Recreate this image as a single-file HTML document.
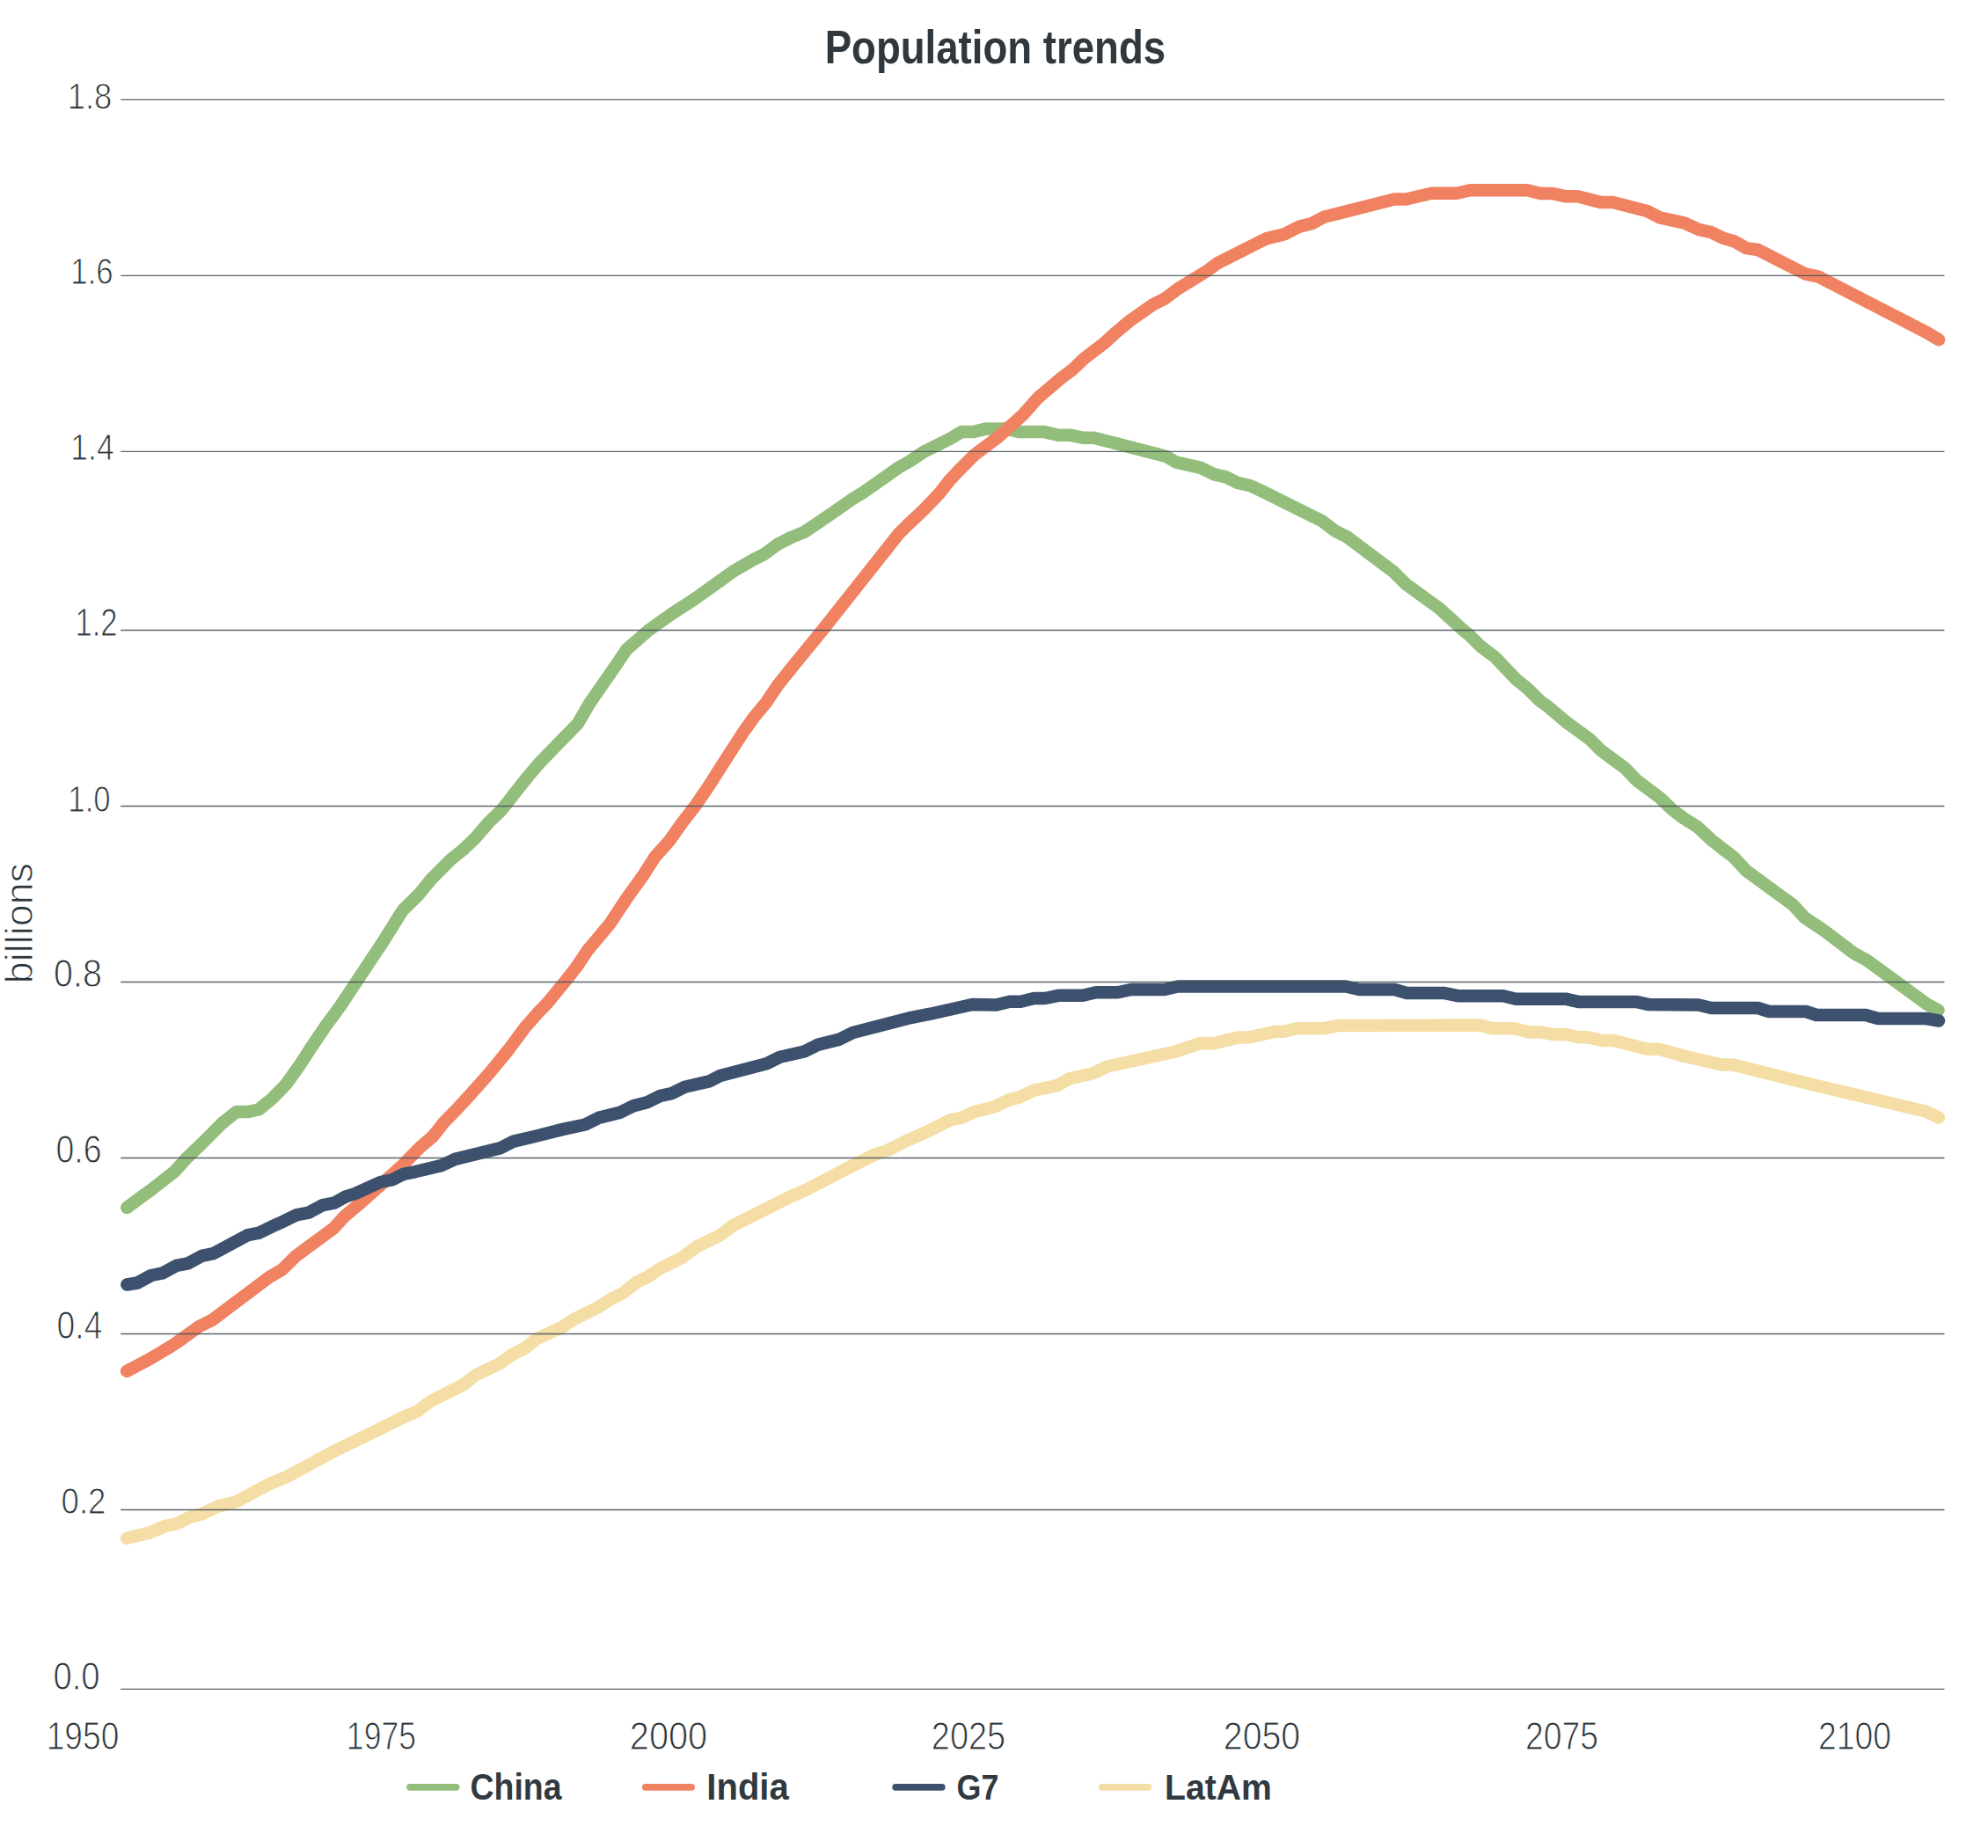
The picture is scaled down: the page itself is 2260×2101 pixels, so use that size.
<!DOCTYPE html><html><head><meta charset="utf-8"><title>Population trends</title><style>html,body{margin:0;padding:0;background:#fff;overflow:hidden;}svg{display:block;}</style></head><body>
<svg width="2260" height="2101" viewBox="0 0 2260 2101">
<style>text{font-family:"Liberation Sans",sans-serif;}</style>
<rect width="2260" height="2101" fill="#fff"/>
<polyline points="144.3,1372.9 171.9,1352.6 198.0,1332.3 212.4,1316.4 229.6,1300.0 252.5,1277.0 268.6,1264.1 281.3,1264.1 294.0,1261.5 309.0,1249.4 325.2,1232.8 340.9,1210.7 355.3,1188.5 370.3,1166.4 386.6,1144.3 405.0,1116.4 434.2,1072.6 457.7,1035.0 476.0,1017.0 490.4,999.4 512.6,977.2 525.7,966.7 540.1,953.0 555.8,934.7 570.2,920.9 584.6,902.6 600.0,883.0 615.5,865.1 636.0,844.0 656.7,822.9 670.0,800.0 683.4,780.7 702.5,753.0 712.2,738.5 737.6,716.4 762.9,698.4 791.0,680.1 812.1,665.0 833.2,649.8 856.4,636.3 869.0,630.0 884.1,618.7 899.2,611.1 914.3,604.9 929.4,594.8 939.4,588.0 969.3,567.1 982.4,559.2 1021.6,531.5 1034.9,524.0 1049.7,514.0 1064.1,506.8 1080.2,498.8 1093.1,491.1 1106.0,491.1 1120.5,487.6 1144.6,487.6 1159.1,491.1 1187.3,491.1 1203.1,494.7 1216.2,494.7 1230.5,497.7 1243.6,497.7 1326.0,518.9 1336.5,525.4 1365.3,531.9 1379.6,539.1 1394.0,542.4 1407.1,548.9 1421.5,552.2 1440.0,560.9 1476.6,579.2 1502.8,592.3 1518.5,604.1 1531.6,610.6 1583.9,649.9 1598.3,664.2 1636.2,691.7 1649.3,703.5 1662.3,715.5 1670.2,721.8 1683.3,734.9 1700.0,747.5 1723.5,772.3 1736.6,782.8 1751.0,797.2 1760.2,803.7 1781.1,821.4 1807.2,840.3 1820.3,853.4 1847.8,873.7 1860.9,887.4 1887.0,907.0 1901.4,920.8 1914.5,930.6 1930.2,940.4 1944.6,954.1 1960.0,966.2 1971.8,975.3 1984.8,989.7 1999.2,1000.2 2038.5,1028.9 2051.6,1043.3 2071.2,1056.4 2080.3,1062.9 2107.8,1083.9 2122.2,1091.7 2190.2,1141.4 2203.5,1148.6" fill="none" stroke="#93bd7a" stroke-width="14.5" stroke-linecap="round" stroke-linejoin="round"/>
<polyline points="144.1,1558.9 170.2,1545.1 195.4,1530.0 202.9,1525.0 225.6,1508.6 240.7,1501.1 270.8,1478.5 306.1,1452.0 321.1,1443.2 336.2,1428.1 379.0,1396.7 391.6,1382.9 406.7,1370.3 436.8,1343.5 457.0,1325.5 465.9,1316.2 478.0,1304.0 491.7,1292.4 504.5,1276.3 520.2,1260.2 534.9,1244.1 556.4,1220.0 579.0,1192.3 597.0,1168.0 612.0,1151.0 622.6,1140.0 641.9,1116.5 654.9,1100.1 668.0,1080.5 681.1,1064.8 694.2,1049.1 713.3,1020.0 730.3,996.6 744.8,973.9 760.9,956.0 775.2,935.7 790.2,916.4 805.3,894.4 820.8,870.0 830.5,854.9 844.9,832.6 858.0,814.3 871.1,798.6 884.2,779.0 899.9,759.4 935.2,716.2 1022.4,606.1 1032.5,596.1 1049.7,580.0 1067.4,561.5 1079.4,546.2 1089.9,535.0 1107.6,517.3 1117.3,510.0 1133.4,498.0 1144.6,488.3 1148.7,484.3 1163.1,471.4 1180.0,452.3 1206.2,430.0 1219.2,420.2 1232.3,407.8 1254.5,390.8 1268.9,377.7 1284.6,364.6 1310.8,346.3 1323.9,339.8 1339.6,328.0 1363.1,313.6 1373.6,307.1 1384.0,299.2 1440.0,271.1 1459.6,266.4 1477.2,257.6 1491.5,254.0 1504.8,246.8 1585.1,226.5 1598.5,226.5 1627.2,219.8 1655.8,219.8 1671.1,216.2 1736.1,216.2 1751.4,220.0 1764.8,220.0 1780.1,223.3 1793.5,223.3 1820.2,230.1 1833.6,230.1 1872.5,240.1 1887.8,247.7 1914.5,253.4 1931.7,261.1 1945.1,264.0 1958.5,270.6 1971.9,274.5 1985.3,282.1 1998.6,284.0 2052.2,311.4 2067.4,314.6 2189.8,377.7 2204.1,386.3" fill="none" stroke="#f08262" stroke-width="14.5" stroke-linecap="round" stroke-linejoin="round"/>
<polyline points="144.4,1460.5 156.2,1458.5 171.9,1450.0 184.9,1447.4 200.6,1438.9 213.7,1436.3 229.4,1427.8 242.5,1425.2 281.7,1404.2 294.8,1401.6 309.2,1394.4 322.3,1388.6 336.6,1381.4 351.0,1378.7 366.7,1370.2 380.0,1367.6 393.1,1360.4 403.5,1357.1 432.3,1344.0 445.4,1341.4 458.5,1334.9 471.6,1332.3 501.6,1325.1 517.3,1317.9 568.3,1305.4 584.0,1297.6 608.9,1291.7 640.0,1283.9 665.3,1278.5 680.4,1270.9 705.5,1264.6 720.6,1257.1 735.7,1253.3 750.8,1245.8 763.4,1243.2 778.5,1235.7 806.1,1229.4 818.7,1223.1 871.5,1209.3 886.6,1201.7 914.3,1195.5 929.4,1187.9 954.5,1181.6 969.6,1174.1 1032.5,1157.7 1057.6,1152.7 1105.4,1142.0 1132.7,1142.5 1147.8,1138.7 1160.4,1138.7 1175.5,1135.0 1188.0,1135.0 1203.1,1131.8 1230.8,1131.8 1245.9,1128.2 1271.0,1128.2 1286.1,1125.0 1323.8,1125.0 1338.9,1121.5 1530.1,1121.5 1545.2,1125.0 1585.4,1125.0 1599.3,1128.9 1641.2,1128.9 1657.3,1132.2 1708.8,1132.2 1723.3,1135.7 1779.6,1135.7 1794.1,1138.9 1860.1,1138.9 1874.6,1142.1 1930.9,1142.5 1945.4,1146.0 1998.5,1146.0 2011.0,1150.0 2053.0,1150.0 2065.0,1154.0 2121.0,1154.0 2135.0,1158.0 2190.0,1158.0 2204.0,1160.5" fill="none" stroke="#3d516e" stroke-width="14.5" stroke-linecap="round" stroke-linejoin="round"/>
<polyline points="144.1,1748.8 170.2,1742.6 187.8,1735.0 200.4,1732.5 215.5,1724.9 228.1,1721.9 248.2,1712.4 268.3,1707.4 306.1,1687.2 326.2,1678.9 380.0,1649.8 426.9,1627.0 457.0,1612.0 475.5,1603.8 488.6,1593.6 527.8,1573.7 540.9,1563.2 568.3,1550.2 582.7,1539.7 597.1,1532.5 610.2,1522.0 640.0,1508.3 652.7,1499.8 680.4,1486.0 695.5,1476.4 708.0,1470.1 723.1,1458.3 735.7,1452.1 750.8,1442.0 775.9,1429.4 791.0,1418.0 818.7,1404.3 833.8,1392.9 896.7,1361.4 916.8,1352.6 969.6,1325.0 994.8,1312.4 1007.3,1308.6 1032.5,1296.1 1055.1,1286.0 1080.3,1273.4 1092.8,1270.9 1107.9,1264.0 1130.0,1258.5 1147.0,1250.4 1160.1,1247.1 1174.5,1239.9 1201.9,1234.1 1216.3,1226.2 1242.5,1220.3 1258.2,1212.7 1336.4,1195.5 1365.4,1185.9 1379.8,1186.3 1406.8,1179.6 1419.4,1179.6 1449.6,1172.8 1459.6,1172.8 1474.8,1169.3 1504.9,1169.3 1520.0,1166.0 1683.0,1165.5 1695.9,1169.2 1721.7,1169.2 1737.8,1173.4 1750.6,1173.4 1765.1,1175.9 1779.6,1175.9 1794.1,1179.2 1805.4,1179.2 1821.5,1183.0 1834.3,1183.0 1873.0,1192.7 1885.9,1192.7 1914.8,1200.7 1956.7,1210.4 1969.6,1210.4 2066.2,1234.5 2189.0,1263.5 2204.0,1270.6" fill="none" stroke="#f4dea6" stroke-width="14.5" stroke-linecap="round" stroke-linejoin="round"/>
<line x1="137.2" y1="113.4" x2="2210.5" y2="113.4" stroke="#4c555b" stroke-width="1.3" opacity="0.9"/>
<line x1="137.2" y1="313.4" x2="2210.5" y2="313.4" stroke="#4c555b" stroke-width="1.3" opacity="0.9"/>
<line x1="137.2" y1="513.4" x2="2210.5" y2="513.4" stroke="#4c555b" stroke-width="1.3" opacity="0.9"/>
<line x1="137.2" y1="716.5" x2="2210.5" y2="716.5" stroke="#4c555b" stroke-width="1.3" opacity="0.9"/>
<line x1="137.2" y1="916.5" x2="2210.5" y2="916.5" stroke="#4c555b" stroke-width="1.3" opacity="0.9"/>
<line x1="137.2" y1="1116.5" x2="2210.5" y2="1116.5" stroke="#4c555b" stroke-width="1.3" opacity="0.9"/>
<line x1="137.2" y1="1316.5" x2="2210.5" y2="1316.5" stroke="#4c555b" stroke-width="1.3" opacity="0.9"/>
<line x1="137.2" y1="1516.5" x2="2210.5" y2="1516.5" stroke="#4c555b" stroke-width="1.3" opacity="0.9"/>
<line x1="137.2" y1="1716.5" x2="2210.5" y2="1716.5" stroke="#4c555b" stroke-width="1.3" opacity="0.9"/>
<line x1="137.2" y1="1920.3" x2="2210.5" y2="1920.3" stroke="#4c555b" stroke-width="1.3" opacity="0.9"/>
<line x1="465.9" y1="2031.9" x2="518.6" y2="2031.9" stroke="#93bd7a" stroke-width="7.6" stroke-linecap="round"/>
<line x1="733.7" y1="2031.9" x2="786.2" y2="2031.9" stroke="#f08262" stroke-width="7.6" stroke-linecap="round"/>
<line x1="1018.1" y1="2031.9" x2="1070.9" y2="2031.9" stroke="#3d516e" stroke-width="7.6" stroke-linecap="round"/>
<line x1="1252.8" y1="2031.9" x2="1305.6" y2="2031.9" stroke="#f4dea6" stroke-width="7.6" stroke-linecap="round"/>
<text transform="translate(102.00,124.00) scale(0.8392,1)" text-anchor="middle" font-size="43.37" fill="#2b3439" stroke="#fff" stroke-width="1.0">1.8</text>
<text transform="translate(104.50,323.00) scale(0.8300,1)" text-anchor="middle" font-size="41.99" fill="#2b3439" stroke="#fff" stroke-width="1.0">1.6</text>
<text transform="translate(105.00,523.00) scale(0.8246,1)" text-anchor="middle" font-size="42.98" fill="#2b3439" stroke="#fff" stroke-width="1.0">1.4</text>
<text transform="translate(109.50,723.00) scale(0.7908,1)" text-anchor="middle" font-size="43.83" fill="#2b3439" stroke="#fff" stroke-width="1.0">1.2</text>
<text transform="translate(101.50,923.00) scale(0.8304,1)" text-anchor="middle" font-size="41.99" fill="#2b3439" stroke="#fff" stroke-width="1.0">1.0</text>
<text transform="translate(88.50,1122.00) scale(0.9042,1)" text-anchor="middle" font-size="43.66" fill="#2b3439" stroke="#fff" stroke-width="1.0">0.8</text>
<text transform="translate(89.50,1322.00) scale(0.8595,1)" text-anchor="middle" font-size="43.66" fill="#2b3439" stroke="#fff" stroke-width="1.0">0.6</text>
<text transform="translate(90.50,1522.00) scale(0.8548,1)" text-anchor="middle" font-size="43.66" fill="#2b3439" stroke="#fff" stroke-width="1.0">0.4</text>
<text transform="translate(95.00,1721.00) scale(0.8687,1)" text-anchor="middle" font-size="42.21" fill="#2b3439" stroke="#fff" stroke-width="1.0">0.2</text>
<text transform="translate(87.00,1921.00) scale(0.8713,1)" text-anchor="middle" font-size="43.95" fill="#2b3439" stroke="#fff" stroke-width="1.0">0.0</text>
<text transform="translate(94.00,1989.00) scale(0.8348,1)" text-anchor="middle" font-size="44.51" fill="#2b3439" stroke="#fff" stroke-width="1.0">1950</text>
<text transform="translate(433.50,1989.00) scale(0.8008,1)" text-anchor="middle" font-size="44.51" fill="#2b3439" stroke="#fff" stroke-width="1.0">1975</text>
<text transform="translate(760.00,1989.00) scale(0.8937,1)" text-anchor="middle" font-size="44.51" fill="#2b3439" stroke="#fff" stroke-width="1.0">2000</text>
<text transform="translate(1101.00,1989.00) scale(0.8515,1)" text-anchor="middle" font-size="44.51" fill="#2b3439" stroke="#fff" stroke-width="1.0">2025</text>
<text transform="translate(1434.50,1989.00) scale(0.8832,1)" text-anchor="middle" font-size="44.51" fill="#2b3439" stroke="#fff" stroke-width="1.0">2050</text>
<text transform="translate(1775.50,1989.00) scale(0.8389,1)" text-anchor="middle" font-size="44.51" fill="#2b3439" stroke="#fff" stroke-width="1.0">2075</text>
<text transform="translate(2108.50,1989.00) scale(0.8386,1)" text-anchor="middle" font-size="44.51" fill="#2b3439" stroke="#fff" stroke-width="1.0">2100</text>
<text transform="translate(1131.40,71.80) scale(0.8643,1)" text-anchor="middle" font-size="52.76" font-weight="bold" fill="#30383e">Population trends</text>
<text transform="translate(586.50,2046.00) scale(0.8718,1)" text-anchor="middle" font-size="42.88" font-weight="bold" fill="#31393f">China</text>
<text transform="translate(850.00,2046.00) scale(0.9328,1)" text-anchor="middle" font-size="42.88" font-weight="bold" fill="#31393f">India</text>
<text transform="translate(1111.50,2046.00) scale(0.8702,1)" text-anchor="middle" font-size="41.24" font-weight="bold" fill="#31393f">G7</text>
<text transform="translate(1385.00,2046.00) scale(0.9498,1)" text-anchor="middle" font-size="41.24" font-weight="bold" fill="#31393f">LatAm</text>
<text transform="translate(37.00,1049.55) rotate(-90) scale(0.9990,1)" text-anchor="middle" font-size="44.95" fill="#2b3439" stroke="#fff" stroke-width="1.0">billions</text>
</svg></body></html>
